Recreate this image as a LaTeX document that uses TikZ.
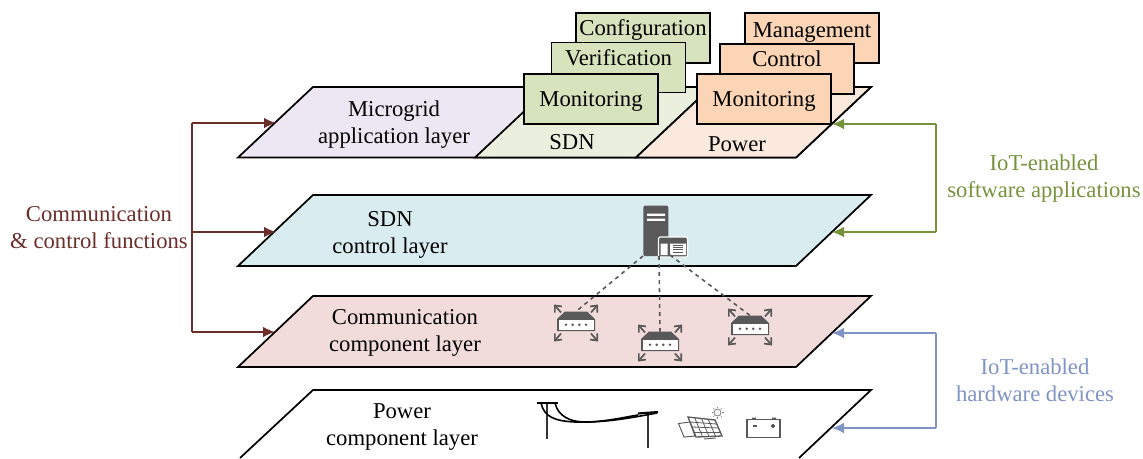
\documentclass[tikz,border=0pt]{standalone}
\usepackage{fontspec}
\setmainfont{Liberation Serif}
\usetikzlibrary{arrows.meta,positioning,calc}
\definecolor{brownline}{HTML}{6B2E2A}
\definecolor{greenline}{HTML}{76933C}
\definecolor{blueline}{HTML}{7F93C4}
\definecolor{icongray}{HTML}{595959}
\definecolor{boxgreen}{HTML}{D6E3BC}
\definecolor{boxorange}{HTML}{FBD5B5}
\tikzset{
  layer/.style={draw=black,line width=1.3pt,line join=miter},
  txt/.style={font=\fontsize{17}{20.25}\selectfont,align=center,inner sep=0pt},
  greenbox/.style={txt,draw=black,line width=1.3pt,fill=boxgreen,minimum width=100.5pt,minimum height=37pt},
  orangebox/.style={greenbox,fill=boxorange},
  backbox/.style={text height=17pt,text depth=20.5pt},
  frontbox/.style={text height=24pt,text depth=13.5pt},
  feed/.style={line width=1.2pt,-{Latex[length=9pt,width=8pt]}},
  router/.pic={
    \fill[icongray] (-11,-9.5) -- (11,-9.5) -- (19,-2) -- (19,10) -- (-19,10) -- (-19,-2) -- cycle;
    \fill[white] (-17.5,-1) rectangle (17.5,8.5);
    \foreach \dx in {-10,-3.3,3.3,10} \fill[icongray] (\dx,3.8) circle (1.4);
    \foreach \sx/\sy in {-1/-1,1/-1,-1/1,1/1}
      \draw[icongray,line width=1.3pt,-{Straight Barb[length=4pt,width=7pt]}] (15*\sx,2+10.5*\sy) -- (22*\sx,2+18.5*\sy);
    \coordinate (-top) at (0,-9.5);
  }
}
\begin{document}
\begin{tikzpicture}[x=0.75pt,y=0.75pt,yscale=-1,xscale=1]
        \useasboundingbox (0,0) rectangle (1143,458);
        %Application layer
        \draw[layer,fill={rgb,255:red,236;green,231;blue,242}] (238,157.5) -- (313,87) -- (871,87) -- (796,157.5) -- cycle;
        \draw[layer,fill={rgb,255:red,235;green,240;blue,222}] (475,157.5) -- (550,87) -- (711,87) -- (636,157.5) -- cycle;
        \draw[layer,fill={rgb,255:red,251;green,233;blue,221}] (636,157.5) -- (711,87) -- (871,87) -- (796,157.5) -- cycle;
        \node[txt] (apptext) at (394,125) {Microgrid\\application layer};
        \node[txt] (sdntext) at (572,142) {SDN};
        \node[txt] (powertext) at (737,144) {Power};
        %Boxes on top
        \node[greenbox,backbox] (config) at (643,38) {Configuration};
        \node[greenbox,backbox] (verif) at (618.5,67.5) {Verification};
        \node[greenbox,frontbox] (monitorA) at (591,99) {Monitoring};
        \node[orangebox,text height=18.25pt,text depth=19.25pt] (manage) at (812,38) {Management};
        \node[orangebox,backbox] (control) at (787,69) {Control};
        \node[orangebox,frontbox] (monitorB) at (764,99) {Monitoring};
        %Control layer
        \draw[layer,fill={rgb,255:red,217;green,237;blue,241}] (238,266) -- (313,195) -- (871,195) -- (796,266) -- cycle;
        \node[txt] (ctrltext) at (390,234.5) {SDN\\control layer};
        %Communication layer
        \draw[layer,fill={rgb,255:red,242;green,220;blue,219}] (238,367) -- (313,296) -- (871,296) -- (796,367) -- cycle;
        \node[txt] (commtext) at (405,332.5) {Communication\\component layer};
        %Power layer
        \draw[layer] (240,458) -- (313,390) -- (871,390) -- (799,458);
        \node[txt] (powerlayer) at (402,427) {Power\\component layer};
        %Server
        \fill[icongray,rounded corners=1pt] (643.3,205.7) rectangle (668.3,256);
        \fill[white] (647,213.5) rectangle (665,215.8) (647,218.5) rectangle (665,220.8);
        \fill[icongray,draw=white,line width=0.8pt,rounded corners=1pt] (658.5,237) rectangle (687.5,257);
        \fill[white] (660.5,243.5) rectangle (667.5,255) (670,243.5) rectangle (686,255);
        \foreach \ly in {245.5,247.7,249.9,252.1} \draw[icongray,line width=0.7pt] (673,\ly) -- (683,\ly);
        \coordinate (srvA) at (643,256);
        \coordinate (srvB) at (659,256);
        \coordinate (srvC) at (670,255);
        %Routers
        \pic[transform shape] (routerA) at (576,321) {router};
        \pic[transform shape] (routerB) at (660,341) {router};
        \pic[transform shape] (routerC) at (750,325) {router};
        \draw[dashed,icongray,line width=1.2pt] (srvA) -- (routerA-top);
        \draw[dashed,icongray,line width=1.2pt] (srvB) -- (routerB-top);
        \draw[dashed,icongray,line width=1.2pt] (srvC) -- (routerC-top);
        %Poles
        \draw[icongray!60!black,line width=1.3pt] (547,403) -- (547,439);
        \draw[icongray!60!black,line width=1.3pt] (648,413) -- (648,448);
        \draw[black,line width=1.6pt] (537,403) -- (558,403);
        \draw[black,line width=1.6pt] (638,413.5) -- (658,412);
        \draw[black,line width=1.2pt] (541,403) .. controls (544,417) and (555,421) .. (575,422) .. controls (600,423) and (620,418) .. (638,415);
        \draw[black,line width=1.2pt] (555,403) .. controls (558,416) and (570,422) .. (585,422) .. controls (610,422) and (635,417) .. (657,413);
        %Solar panels
        \draw[icongray,line width=0.7pt,fill=white] (678.5,423.5) -- (690,422) -- (695,436) -- (684,437) -- cycle;
        \draw[icongray,line width=1pt,fill=white] (688,417) -- (715,420) -- (722,436) -- (696,437) -- cycle;
        \foreach \fa in {0.25,0.5,0.75} {
          \draw[icongray,line width=0.6pt] ($(688,417)!\fa!(715,420)$) -- ($(696,437)!\fa!(722,436)$);
          \draw[icongray,line width=0.6pt] ($(688,417)!\fa!(696,437)$) -- ($(715,420)!\fa!(722,436)$);
        }
        \draw[icongray,line width=0.7pt] (704,439) -- (716,438);
        \draw[gray,line width=0.6pt] (717.5,412.5) circle (3.5);
        \foreach \ang in {0,45,...,315} \draw[gray,line width=0.5pt] (717.5,412.5) ++(\ang:4.5) -- ++(\ang:1.5);
        %Battery
        \draw[icongray,line width=1.2pt,fill=white] (747,419.5) rectangle (780,437.5);
        \fill[icongray] (752,417.5) rectangle (756,419.5) (772,417.5) rectangle (776,419.5);
        \draw[icongray,line width=0.9pt] (753,426) -- (757,426) (771,426) -- (775,426) (773,424) -- (773,428);
        %Left arrows
        \node[txt,text=brownline] (functions) at (99,227.5) {Communication\\\& control functions};
        \coordinate (busA) at (192,123);
        \coordinate (busB) at (192,232);
        \coordinate (busC) at (192,332);
        \coordinate (appin) at (276,123);
        \coordinate (ctrlin) at (276,232);
        \coordinate (commin) at (275,332);
        \draw[brownline,line width=1.2pt] (busA) -- (busC);
        \draw[feed,brownline] (busA) -- (appin);
        \draw[feed,brownline] (busB) -- (ctrlin);
        \draw[feed,brownline] (busC) -- (commin);
        %Right arrows
        \node[txt,text=greenline] (software) at (1044,178.5) {IoT-enabled\\software applications};
        \node[txt,text=blueline] (hardware) at (1035,380.5) {IoT-enabled\\hardware devices};
        \coordinate (swA) at (936,124);
        \coordinate (swB) at (936,232);
        \coordinate (hwA) at (936,333);
        \coordinate (hwB) at (936,428);
        \coordinate (appout) at (832,124);
        \coordinate (ctrlout) at (832,232);
        \coordinate (commout) at (832,333);
        \coordinate (powerout) at (832,428);
        \draw[greenline,line width=1.2pt] (swA) -- (swB);
        \draw[feed,greenline] (swA) -- (appout);
        \draw[feed,greenline] (swB) -- (ctrlout);
        \draw[blueline,line width=1.2pt] (hwA) -- (hwB);
        \draw[feed,blueline] (hwA) -- (commout);
        \draw[feed,blueline] (hwB) -- (powerout);
    \end{tikzpicture}
\end{document}
